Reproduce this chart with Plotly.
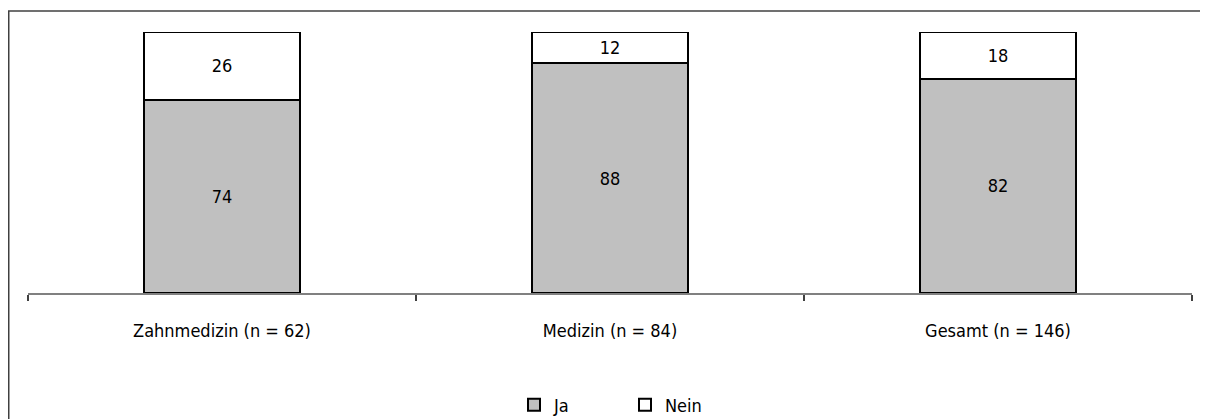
import plotly.graph_objects as go

categories = ["Zahnmedizin (n = 62)", "Medizin (n = 84)", "Gesamt (n = 146)"]
ja_values = [74, 88, 82]
nein_values = [26, 12, 18]

FONT = "DejaVu Sans Condensed, Liberation Sans Narrow, sans-serif"
FS = 18

fig = go.Figure()
fig.add_trace(go.Bar(
    x=categories, y=ja_values, name="Ja",
    marker=dict(color="#c0c0c0", line=dict(color="black", width=2)),
    text=ja_values, textposition="inside", insidetextanchor="middle",
    textfont=dict(color="black", size=FS, family=FONT),
    width=0.4,
))
fig.add_trace(go.Bar(
    x=categories, y=nein_values, name="Nein",
    marker=dict(color="white", line=dict(color="black", width=2)),
    text=nein_values, textposition="inside", insidetextanchor="middle",
    textfont=dict(color="black", size=FS, family=FONT),
    width=0.4,
))

# page body has an 8px margin, so figure coords = screen coords - 8
OFF = 8
W, H = 1200, 411
L, R, T, B = 28 - OFF, 16, 32 - OFF, 126
pw, ph = W - L - R, H - T - B

def px(xs):
    return (xs - OFF - L) / pw

def py(ys):
    return (H - B - (ys - OFF)) / ph

fig.update_layout(
    width=W, height=H,
    barmode="stack",
    margin=dict(l=L, r=R, t=T, b=B, autoexpand=False),
    paper_bgcolor="white", plot_bgcolor="white",
    font=dict(family=FONT, size=FS, color="black"),
    showlegend=True,
    legend=dict(orientation="h", x=px(514), xanchor="left", y=py(405), yanchor="middle",
                font=dict(size=FS, family=FONT), itemwidth=30, entrywidth=66,
                traceorder="normal"),
    xaxis=dict(range=[-0.5, 2.5], showline=True, linecolor="#808080", linewidth=1.5,
               ticks="outside", tickson="boundaries", ticklen=6, tickcolor="#404040",
               tickwidth=1.5, showgrid=False, tickfont=dict(size=FS, family=FONT),
               ticklabelstandoff=21, automargin=False),
    yaxis=dict(range=[0, 100], visible=False, showgrid=False, automargin=False),
    shapes=[
        dict(type="line", xref="paper", yref="paper", x0=px(8), x1=px(1216), y0=py(11), y1=py(11),
             line=dict(color="#404040", width=1.5)),
        dict(type="line", xref="paper", yref="paper", x0=px(8.75), x1=px(8.75), y0=py(11), y1=py(430),
             line=dict(color="#404040", width=1.5)),
    ],
)

fig.write_html("out.html")
